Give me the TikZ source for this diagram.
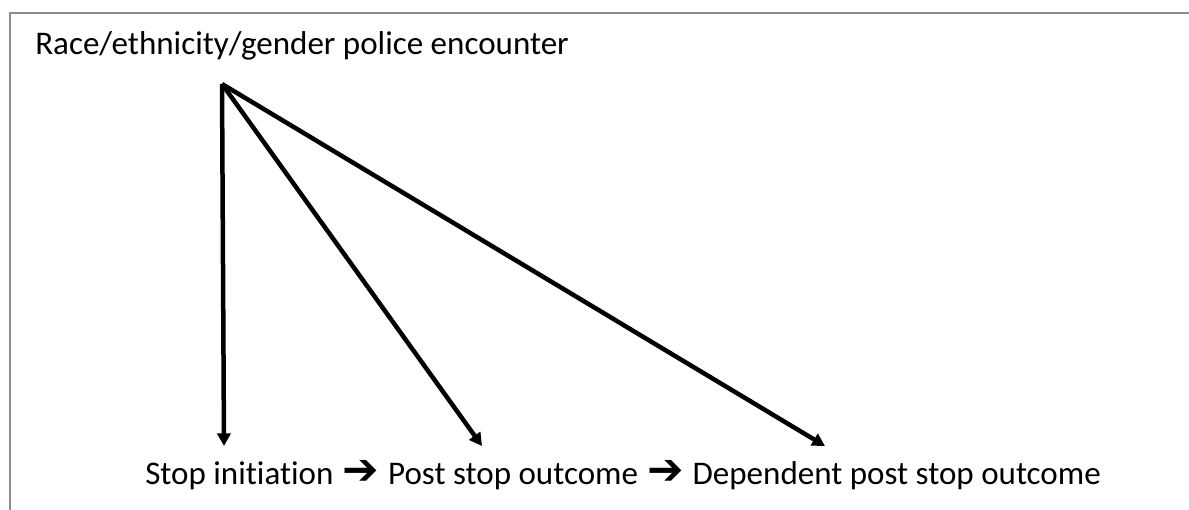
\documentclass[tikz,border=0pt]{standalone}
\usepackage{fontspec}
\setmainfont{Carlito}[Ligatures=NoCommon]
\newfontfamily\arrowfont{DejaVu Sans}
\usetikzlibrary{arrows.meta,positioning}

\begin{document}
\begin{tikzpicture}[x=0.025cm,y=-0.025cm,
  txt/.style={inner sep=0pt,font=\fontsize{23.5}{28}\selectfont},
  chain/.style={inner sep=0pt,font=\arrowfont\bfseries\fontsize{31}{34}\selectfont},
  link/.style={-{Triangle[length=9pt,width=9.5pt]},line width=3.2pt},
  frame/.style={draw=black!45,line width=1.5pt}]
\useasboundingbox (0,0) rectangle (1189,510);
\draw[frame] (10,510) -- (10,13) -- (1189,13);

% cause
\node[txt,anchor=base west]	(enc)	at (35,55)	{Race/ethnicity/gender police encounter};

% outcomes
\node[txt,anchor=base west]	(init)	at (145,484)	{Stop initiation};
\node[chain]	(ar1)	[base right=6pt of init]	{➔};
\node[txt]	(post)	[base right=6pt of ar1]	{Post stop outcome};
\node[chain]	(ar2)	[base right=6pt of post]	{➔};
\node[txt]	(dep)	[base right=6pt of ar2]	{Dependent post stop outcome};

\coordinate (apex)	at (222,84);
\coordinate (t1)	at (224,446);
\coordinate (t2)	at (482,446);
\coordinate (t3)	at (825,446);

\path[link]	(apex)	edge (t1)
			edge (t2)
			edge (t3);
\end{tikzpicture}
\end{document}
